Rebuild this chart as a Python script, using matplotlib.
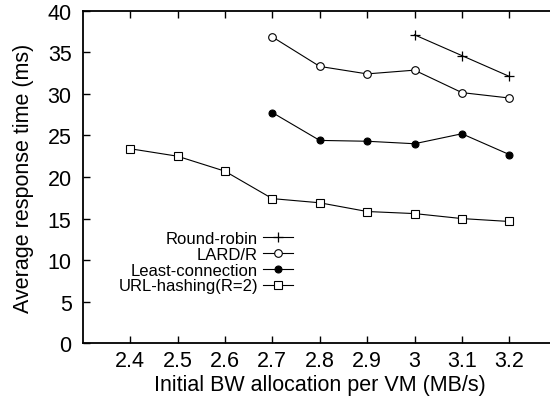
import matplotlib
matplotlib.use("Agg")
import matplotlib.pyplot as plt

plt.rcParams['font.family'] = ['Liberation Sans', 'DejaVu Sans']

# Initial bandwidth allocation per VM (MB/s)
bw_rr = [3.0, 3.1, 3.2]
bw_lard = [2.7, 2.8, 2.9, 3.0, 3.1, 3.2]
bw_lc = [2.7, 2.8, 2.9, 3.0, 3.1, 3.2]
bw_url = [2.4, 2.5, 2.6, 2.7, 2.8, 2.9, 3.0, 3.1, 3.2]

# Average response time (ms)
rt_rr = [37.1, 34.6, 32.1]
rt_lard = [36.85, 33.3, 32.4, 32.85, 30.15, 29.5]
rt_lc = [27.75, 24.4, 24.3, 24.0, 25.2, 22.7]
rt_url = [23.4, 22.5, 20.7, 17.4, 16.9, 15.85, 15.6, 15.0, 14.65]

x_ticks = [2.4, 2.5, 2.6, 2.7, 2.8, 2.9, 3.0, 3.1, 3.2]
x_tick_labels = ['2.4', '2.5', '2.6', '2.7', '2.8', '2.9', '3', '3.1', '3.2']
y_ticks = [0, 5, 10, 15, 20, 25, 30, 35, 40]

fig = plt.figure(figsize=(5.5, 4.02), dpi=100)
ax = fig.add_axes([82.7 / 550, 1 - 344.3 / 402, (556.7 - 82.7) / 550,
                   (344.3 - 11.7) / 402])

lw = 0.8
ax.plot(bw_rr, rt_rr, color='black', lw=lw, marker='+', ms=7, mew=0.9,
        label='Round-robin')
ax.plot(bw_lard, rt_lard, color='black', lw=lw, marker='o', ms=5.5, mew=0.8,
        mfc='white', label='LARD/R')
ax.plot(bw_lc, rt_lc, color='black', lw=lw, marker='o', ms=5, mew=0.8,
        mfc='black', label='Least-connection')
ax.plot(bw_url, rt_url, color='black', lw=lw, marker='s', ms=5.5, mew=0.8,
        mfc='white', label='URL-hashing(R=2)')

ax.set_xlim(2.3, 3.3)
ax.set_ylim(0, 40)
ax.set_xticks(x_ticks)
ax.set_xticklabels(x_tick_labels)
ax.set_yticks(y_ticks)
ax.tick_params(axis='both', direction='in', length=5, width=1, labelsize=15.5,
               top=True, right=False)
ax.tick_params(axis='x', pad=5)
ax.tick_params(axis='y', pad=8)
for s in ax.spines.values():
    s.set_linewidth(1.3)

ax.set_xlabel('Initial BW allocation per VM (MB/s)', fontsize=15.5, labelpad=2)
ax.set_ylabel('Average response time (ms)', fontsize=15.5, labelpad=10)

fig.legend(loc='upper right', bbox_to_anchor=(293 / 550, 1 - 232 / 402),
           frameon=False, markerfirst=False, fontsize=12, handlelength=1.8,
           handletextpad=0.3, labelspacing=0.05, borderpad=0, borderaxespad=0)

fig.savefig('out.png', dpi=100)
